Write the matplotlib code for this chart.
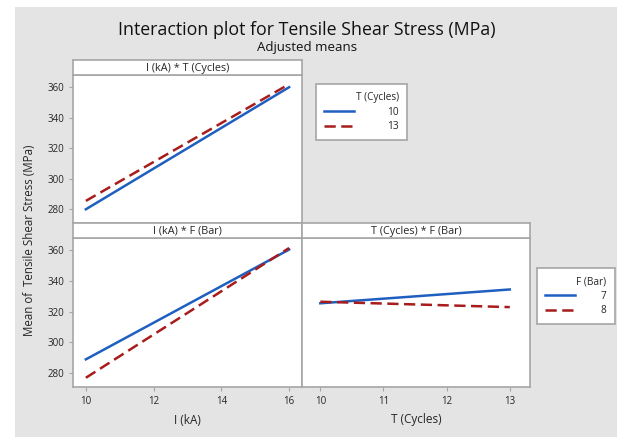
import matplotlib
matplotlib.use("Agg")
import matplotlib.pyplot as plt
from matplotlib.patches import Rectangle

# data (adjusted means)
i_levels = [10, 16]
t_levels = [10, 13]
it_t10 = [280, 360]
it_t13 = [285.5, 362]
if_f7 = [289, 360.5]
if_f8 = [277, 361.5]
tf_f7 = [325.5, 334.5]
tf_f8 = [326.5, 323]

blue = "#1f5fc0"
red = "#a81c1c"
edge = "#a6a6a6"
txt = "#262626"
dash = (0, (4.5, 2.2))

plt.rcParams["font.family"] = ["Open Sans", "DejaVu Sans"]

W, H = 617, 437
fig = plt.figure(figsize=(W / 100, H / 100), dpi=100, facecolor="white")
fig.patches.append(Rectangle((15 / W, 0), 1, 1 - 7 / H, transform=fig.transFigure,
                             facecolor="#e4e4e4", edgecolor="none", zorder=-10))


def box(x0, y0, x1, y1):
    # pixel box -> figure rect
    return [x0 / W, 1 - y1 / H, (x1 - x0) / W, (y1 - y0) / H]


def style(ax):
    for s in ax.spines.values():
        s.set_color(edge)
        s.set_linewidth(1.2)
    ax.tick_params(colors=edge, labelcolor=txt, labelsize=7, length=3, width=0.8)


def strip(x0, y0, x1, y1, label):
    sa = fig.add_axes(box(x0, y0, x1, y1))
    sa.set_xticks([])
    sa.set_yticks([])
    for s in sa.spines.values():
        s.set_color(edge)
        s.set_linewidth(1.2)
    sa.text(0.5, 0.45, label, ha="center", va="center", fontsize=7.8, color=txt,
            transform=sa.transAxes)


ylim = (271, 368)

# I * T
ax1 = fig.add_axes(box(73, 75, 302, 223))
ax1.plot(i_levels, it_t10, color=blue, lw=1.8, label="10")
ax1.plot(i_levels, it_t13, color=red, lw=1.8, ls=dash, label="13")
ax1.set_xlim(9.62, 16.38)
ax1.set_ylim(*ylim)
ax1.set_yticks([280, 300, 320, 340, 360])
ax1.set_xticks([])
style(ax1)
strip(73, 60, 302, 75, "I (kA) * T (Cycles)")

# I * F
ax2 = fig.add_axes(box(73, 238, 302, 387))
ax2.plot(i_levels, if_f7, color=blue, lw=1.8, label="7")
ax2.plot(i_levels, if_f8, color=red, lw=1.8, ls=dash, label="8")
ax2.set_xlim(9.62, 16.38)
ax2.set_ylim(*ylim)
ax2.set_yticks([280, 300, 320, 340, 360])
ax2.set_xticks([10, 12, 14, 16])
style(ax2)
strip(73, 223, 302, 238, "I (kA) * F (Bar)")

# T * F
ax3 = fig.add_axes(box(302, 238, 530, 387))
ax3.plot(t_levels, tf_f7, color=blue, lw=1.8)
ax3.plot(t_levels, tf_f8, color=red, lw=1.8, ls=dash)
ax3.set_xlim(9.71, 13.32)
ax3.set_ylim(*ylim)
ax3.set_yticks([])
ax3.set_xticks([10, 11, 12, 13])
style(ax3)
strip(302, 223, 530, 238, "T (Cycles) * F (Bar)")

# legends
for ax, title, anchor, pad in [(ax1, "T (Cycles)", (316 / W, 1 - 84 / H), 3.3),
                               (ax2, "F (Bar)", (537 / W, 1 - 268 / H), 2.6)]:
    h, l = ax.get_legend_handles_labels()
    leg = fig.legend(h, l, title=title, loc="upper left", bbox_to_anchor=anchor,
                     borderaxespad=0, fontsize=7.3, title_fontsize=7.2,
                     alignment="right", frameon=True, fancybox=False,
                     edgecolor=edge, framealpha=1, handlelength=2.9,
                     handletextpad=pad, borderpad=0.8, labelspacing=0.35)
    leg.get_frame().set_linewidth(1.2)
    for t in leg.get_texts():
        t.set_color(txt)
    leg.get_title().set_color(txt)

fig.text(307 / W, 1 - 30 / H, "Interaction plot for Tensile Shear Stress (MPa)",
         ha="center", va="center", fontsize=12.8, color="#111111")
fig.text(307 / W, 1 - 48 / H, "Adjusted means", ha="center", va="center",
         fontsize=9.5, color="#111111")
fig.text(30 / W, 1 - 240 / H, "Mean of  Tensile Shear Stress (MPa)", rotation=90,
         ha="center", va="center", fontsize=8.3, color=txt)
fig.text(187 / W, 1 - 420 / H, "I (kA)", ha="center", va="center", fontsize=8.5, color=txt)
fig.text(416 / W, 1 - 420 / H, "T (Cycles)", ha="center", va="center", fontsize=8.5, color=txt)

fig.savefig("out.png", dpi=100, facecolor=fig.get_facecolor())
